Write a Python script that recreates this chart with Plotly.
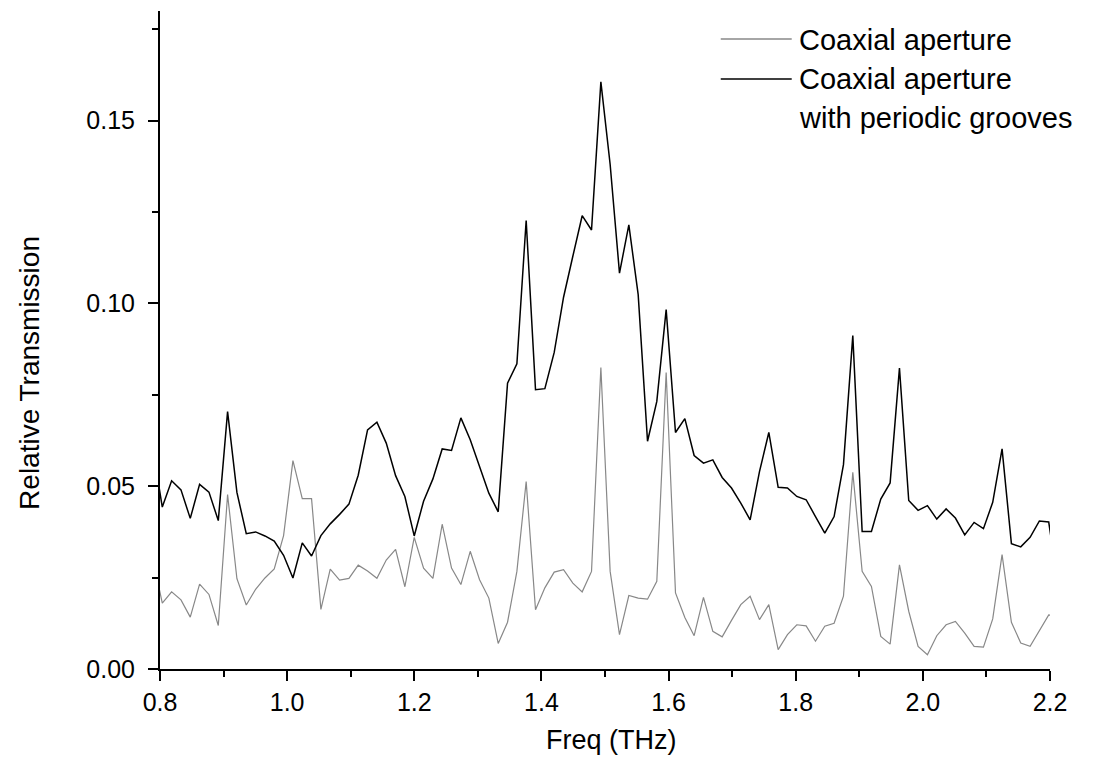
import plotly.graph_objects as go

# frequency grid of the measurement (THz)
freq = [0.7889, 0.8036, 0.8183, 0.8330, 0.8476, 0.8623, 0.8770, 0.8917, 0.9063, 0.9210,
        0.9357, 0.9504, 0.9651, 0.9797, 0.9944, 1.0091, 1.0238, 1.0384, 1.0531, 1.0678,
        1.0825, 1.0972, 1.1118, 1.1265, 1.1412, 1.1559, 1.1706, 1.1852, 1.1999, 1.2146,
        1.2293, 1.2439, 1.2586, 1.2733, 1.2880, 1.3027, 1.3173, 1.3320, 1.3467, 1.3614,
        1.3760, 1.3907, 1.4054, 1.4201, 1.4348, 1.4494, 1.4641, 1.4788, 1.4935, 1.5081,
        1.5228, 1.5375, 1.5522, 1.5669, 1.5815, 1.5962, 1.6109, 1.6256, 1.6402, 1.6549,
        1.6696, 1.6843, 1.6990, 1.7136, 1.7283, 1.7430, 1.7577, 1.7724, 1.7870, 1.8017,
        1.8164, 1.8311, 1.8457, 1.8604, 1.8751, 1.8898, 1.9045, 1.9191, 1.9338, 1.9485,
        1.9632, 1.9778, 1.9925, 2.0072, 2.0219, 2.0366, 2.0512, 2.0659, 2.0806, 2.0953,
        2.1099, 2.1246, 2.1393, 2.1540, 2.1687, 2.1833, 2.1980, 2.2127]

coax = [0.0300, 0.0180, 0.0211, 0.0189, 0.0142, 0.0232, 0.0204, 0.0119, 0.0477, 0.0247,
        0.0175, 0.0218, 0.0249, 0.0274, 0.0365, 0.0570, 0.0466, 0.0466, 0.0163, 0.0273,
        0.0243, 0.0248, 0.0284, 0.0268, 0.0248, 0.0298, 0.0327, 0.0225, 0.0360, 0.0276,
        0.0248, 0.0396, 0.0276, 0.0231, 0.0322, 0.0244, 0.0194, 0.0070, 0.0128, 0.0267,
        0.0513, 0.0162, 0.0222, 0.0265, 0.0272, 0.0235, 0.0211, 0.0267, 0.0825, 0.0267,
        0.0094, 0.0201, 0.0194, 0.0191, 0.0240, 0.0811, 0.0208, 0.0141, 0.0091, 0.0196,
        0.0103, 0.0088, 0.0133, 0.0176, 0.0199, 0.0135, 0.0176, 0.0053, 0.0094, 0.0121,
        0.0118, 0.0076, 0.0117, 0.0125, 0.0199, 0.0538, 0.0267, 0.0226, 0.0089, 0.0068,
        0.0285, 0.0158, 0.0062, 0.0039, 0.0091, 0.0121, 0.0130, 0.0098, 0.0062, 0.0060,
        0.0137, 0.0313, 0.0128, 0.0071, 0.0062, 0.0105, 0.0148, 0.0145]

grooves = [0.0600, 0.0443, 0.0515, 0.0490, 0.0412, 0.0505, 0.0484, 0.0406, 0.0704, 0.0483,
           0.0370, 0.0375, 0.0364, 0.0350, 0.0311, 0.0249, 0.0345, 0.0309, 0.0365, 0.0397,
           0.0423, 0.0451, 0.0530, 0.0654, 0.0675, 0.0618, 0.0529, 0.0472, 0.0364, 0.0459,
           0.0520, 0.0602, 0.0598, 0.0687, 0.0627, 0.0554, 0.0481, 0.0430, 0.0782, 0.0835,
           0.1227, 0.0764, 0.0767, 0.0866, 0.1017, 0.1129, 0.1240, 0.1201, 0.1606, 0.1380,
           0.1083, 0.1215, 0.1024, 0.0623, 0.0732, 0.0983, 0.0647, 0.0685, 0.0584, 0.0563,
           0.0572, 0.0524, 0.0495, 0.0454, 0.0408, 0.0540, 0.0647, 0.0497, 0.0495, 0.0472,
           0.0463, 0.0417, 0.0372, 0.0417, 0.0559, 0.0912, 0.0376, 0.0376, 0.0465, 0.0509,
           0.0823, 0.0461, 0.0434, 0.0447, 0.0410, 0.0438, 0.0413, 0.0367, 0.0401, 0.0384,
           0.0456, 0.0602, 0.0343, 0.0334, 0.0360, 0.0405, 0.0402, 0.0230]

names = ["Coaxial aperture", "Coaxial aperture", "with periodic grooves"]

fnt = "Liberation Sans, Arial, sans-serif"
gry = "#888888"

fig = go.Figure()
fig.add_trace(go.Scatter(x=freq, y=coax, mode="lines", line=dict(color=gry, width=1.2), name=names[0]))
fig.add_trace(go.Scatter(x=freq, y=grooves, mode="lines", line=dict(color="black", width=1.5),
                         name=names[1] + " " + names[2]))

# page body has an 8px margin, so the figure is drawn 8px in from the corner
W, H, L, T = 1101, 762, 152, 3
pw, ph = 890.4, 658.3
px = lambda v: (v - L) / pw
py = lambda v: 1 - (v - T) / ph

# hand-made legend (long line samples like the original)
for yy, c, w in [(31, gry, 1.4), (71, "black", 1.6)]:
    fig.add_shape(type="line", xref="paper", yref="paper", x0=px(713), x1=px(784), y0=py(yy), y1=py(yy),
                  line=dict(color=c, width=w), opacity=1, layer="above")
for txt, yy in zip(names, [32, 71, 110]):
    fig.add_annotation(text=txt, xref="paper", yref="paper", x=px(789), y=py(yy), xanchor="left",
                       yanchor="middle", showarrow=False, font=dict(size=29, color="black", family=fnt))

# axis titles
fig.add_annotation(text="Freq (THz)", xref="paper", yref="paper", x=px(604), y=py(732), xanchor="center",
                   yanchor="middle", showarrow=False, font=dict(size=27, color="black", family=fnt))
fig.add_annotation(text="Relative Transmission", xref="paper", yref="paper", x=px(22), y=py(365),
                   xanchor="center", yanchor="middle", textangle=-90, showarrow=False,
                   font=dict(size=28, color="black", family=fnt))

fig.update_xaxes(range=[0.8, 2.2], dtick=0.2, tickformat=".1f", ticks="outside", ticklen=10, tickwidth=2,
                 tickcolor="black", showline=True, linewidth=2, linecolor="black", showgrid=False,
                 zeroline=False, automargin=False, ticklabelstandoff=0,
                 minor=dict(dtick=0.1, ticks="outside", ticklen=6, tickwidth=2, tickcolor="black"),
                 tickfont=dict(size=25))
fig.update_yaxes(range=[0, 0.18], dtick=0.05, tickformat=".2f", ticks="outside", ticklen=10, tickwidth=2,
                 tickcolor="black", showline=True, linewidth=2, linecolor="black", showgrid=False,
                 zeroline=False, automargin=False, ticklabelstandoff=8,
                 minor=dict(dtick=0.025, ticks="outside", ticklen=6, tickwidth=2, tickcolor="black"),
                 tickfont=dict(size=25))

fig.update_layout(width=W, height=H, template="none", showlegend=False,
                  margin=dict(l=L, r=W - L - pw, t=T, b=H - T - ph),
                  font=dict(family=fnt, color="black"),
                  plot_bgcolor="white", paper_bgcolor="white")

fig.write_html("out.html")
